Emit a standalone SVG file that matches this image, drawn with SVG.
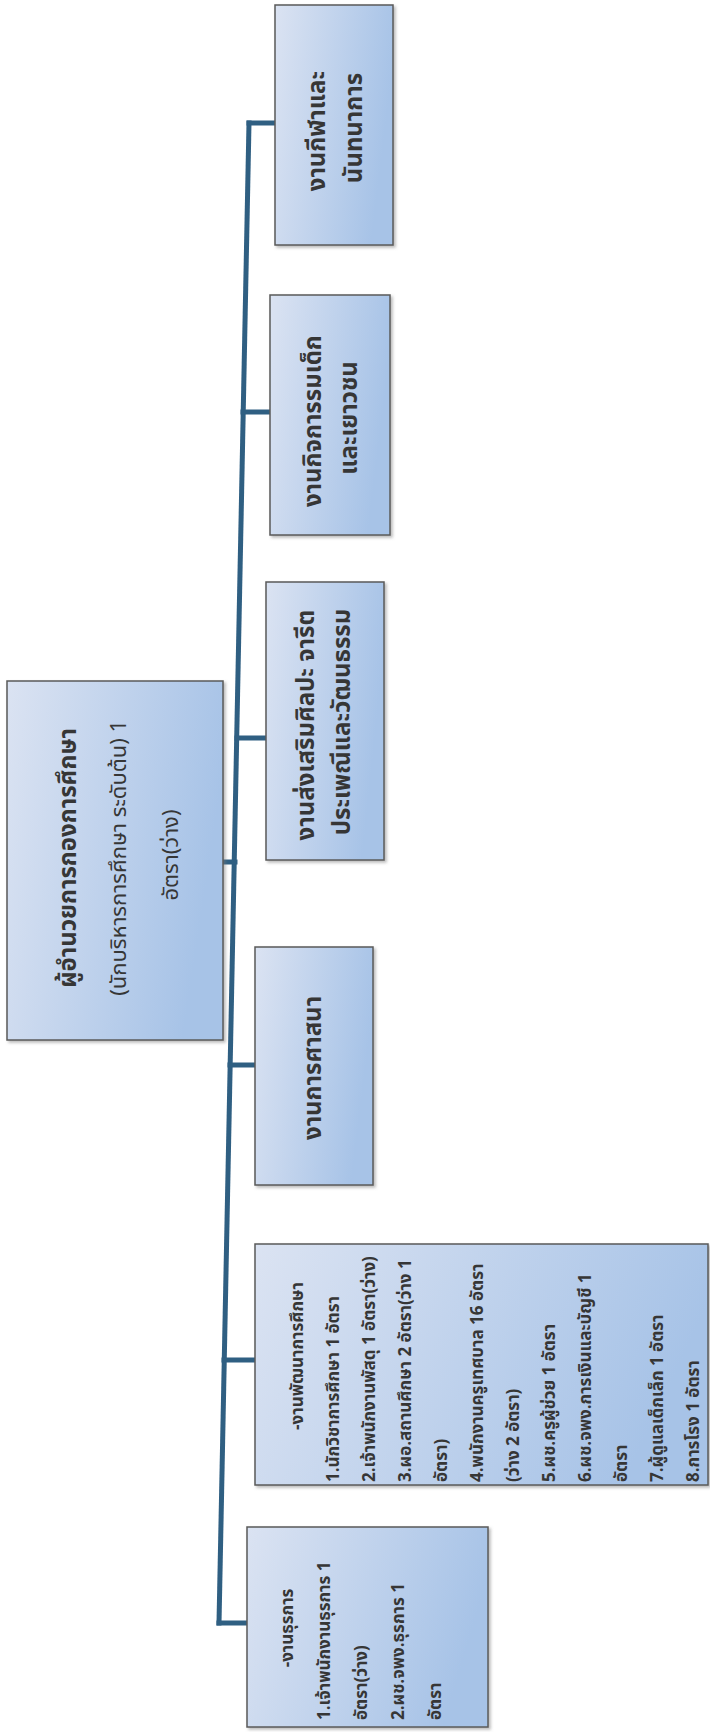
<svg xmlns="http://www.w3.org/2000/svg" width="710" height="1732" viewBox="0 0 710 1732">
<style>
.box{fill:url(#g);stroke:#5a5a5a;stroke-width:1.5;filter:url(#sh)}
.t{font-family:Tahoma,"Noto Sans Thai","Noto Sans Thai UI",Loma,Garuda,"DejaVu Sans",sans-serif;fill:#363636;font-weight:bold}
.big{font-size:22px}
.mid{font-size:24px}
.sm{font-size:17px}
.c{text-anchor:middle}
.conn{stroke:#2f5f82;stroke-width:5;fill:none;stroke-linecap:square}
</style>
<defs>
<linearGradient id="g" x1="0" y1="0" x2="1" y2="0.25">
<stop offset="0" stop-color="#dbe3f2"/>
<stop offset="1" stop-color="#a7c3e7"/>
</linearGradient>
<filter id="sh" x="-10%" y="-10%" width="125%" height="125%">
<feDropShadow dx="2" dy="2" stdDeviation="1.5" flood-color="#777" flood-opacity="0.5"/>
</filter>
</defs>
<rect width="710" height="1732" fill="#fff"/>
<g id="connectors">
<line class="conn" x1="249" y1="123" x2="219" y2="1623"/>
<line class="conn" x1="249" y1="123" x2="275" y2="123"/>
<line class="conn" x1="243" y1="412" x2="270" y2="412"/>
<line class="conn" x1="237" y1="738" x2="266" y2="738"/>
<line class="conn" x1="223" y1="862" x2="235" y2="862"/>
<line class="conn" x1="230" y1="1065" x2="255" y2="1065"/>
<line class="conn" x1="224" y1="1360" x2="255" y2="1360"/>
<line class="conn" x1="219" y1="1623" x2="247" y2="1623"/>
</g>
<g id="n-root">
<rect class="box" x="7" y="681" width="216" height="359"/>
<text class="t big c" transform="translate(0,855) rotate(-90)">
<tspan x="0" y="76" style="font-size:24px">ผู้อำนวยการกองการศึกษา</tspan>
<tspan x="0" y="126" style="font-weight:normal">(นักบริหารการศึกษา ระดับต้น) 1</tspan>
<tspan x="0" y="178" style="font-weight:normal">อัตรา(ว่าง)</tspan>
</text>
</g>
<g id="n-sport">
<rect class="box" x="275" y="5" width="118" height="240"/>
<text class="t mid c" transform="translate(0,128) rotate(-90)">
<tspan x="0" y="325">งานกีฬาและ</tspan>
<tspan x="0" y="362">นันทนาการ</tspan>
</text>
</g>
<g id="n-youth">
<rect class="box" x="270" y="295" width="120" height="240"/>
<text class="t mid c" transform="translate(0,418) rotate(-90)">
<tspan x="0" y="321">งานกิจการรมเด็ก</tspan>
<tspan x="0" y="357">และเยาวชน</tspan>
</text>
</g>
<g id="n-art">
<rect class="box" x="266" y="582" width="118" height="278"/>
<text class="t mid c" transform="translate(0,722) rotate(-90)">
<tspan x="0" y="314">งานส่งเสริมศิลปะ จารีต</tspan>
<tspan x="0" y="350">ประเพณีและวัฒนธรรม</tspan>
</text>
</g>
<g id="n-religion">
<rect class="box" x="255" y="947" width="118" height="238"/>
<text class="t mid c" transform="translate(0,1068) rotate(-90)">
<tspan x="0" y="321">งานการศาสนา</tspan>
</text>
</g>
<g id="n-edu">
<rect class="box" x="255" y="1244" width="453" height="241"/>
<text class="t sm c" transform="translate(0,1356) rotate(-90)"><tspan x="0" y="303">-งานพัฒนาการศึกษา</tspan></text>
<text class="t sm" transform="translate(0,1482) rotate(-90)">
<tspan x="0" y="339">1.นักวิชาการศึกษา 1 อัตรา</tspan>
<tspan x="0" y="375">2.เจ้าพนักงานพัสดุ 1 อัตรา(ว่าง)</tspan>
<tspan x="0" y="411">3.ผอ.สถานศึกษา 2 อัตรา(ว่าง 1</tspan>
<tspan x="0" y="447">อัตรา)</tspan>
<tspan x="0" y="483">4.พนักงานครูเทศบาล 16 อัตรา</tspan>
<tspan x="0" y="519">(ว่าง 2 อัตรา)</tspan>
<tspan x="0" y="555">5.ผช.ครูผู้ช่วย 1 อัตรา</tspan>
<tspan x="0" y="591">6.ผช.จพง.การเงินและบัญชี 1</tspan>
<tspan x="0" y="627">อัตรา</tspan>
<tspan x="0" y="663">7.ผู้ดูแลเด็กเล็ก 1 อัตรา</tspan>
<tspan x="0" y="699">8.การโรง 1 อัตรา</tspan>
</text>
</g>
<g id="n-admin">
<rect class="box" x="247" y="1527" width="241" height="200"/>
<text class="t sm c" transform="translate(0,1628) rotate(-90)"><tspan x="0" y="293">-งานธุรการ</tspan></text>
<text class="t sm" transform="translate(0,1720) rotate(-90)">
<tspan x="0" y="330">1.เจ้าพนักงานธุรการ 1</tspan>
<tspan x="0" y="367">อัตรา(ว่าง)</tspan>
<tspan x="0" y="404">2.ผช.จพง.ธุรการ 1</tspan>
<tspan x="0" y="441">อัตรา</tspan>
</text>
</g>
</svg>
